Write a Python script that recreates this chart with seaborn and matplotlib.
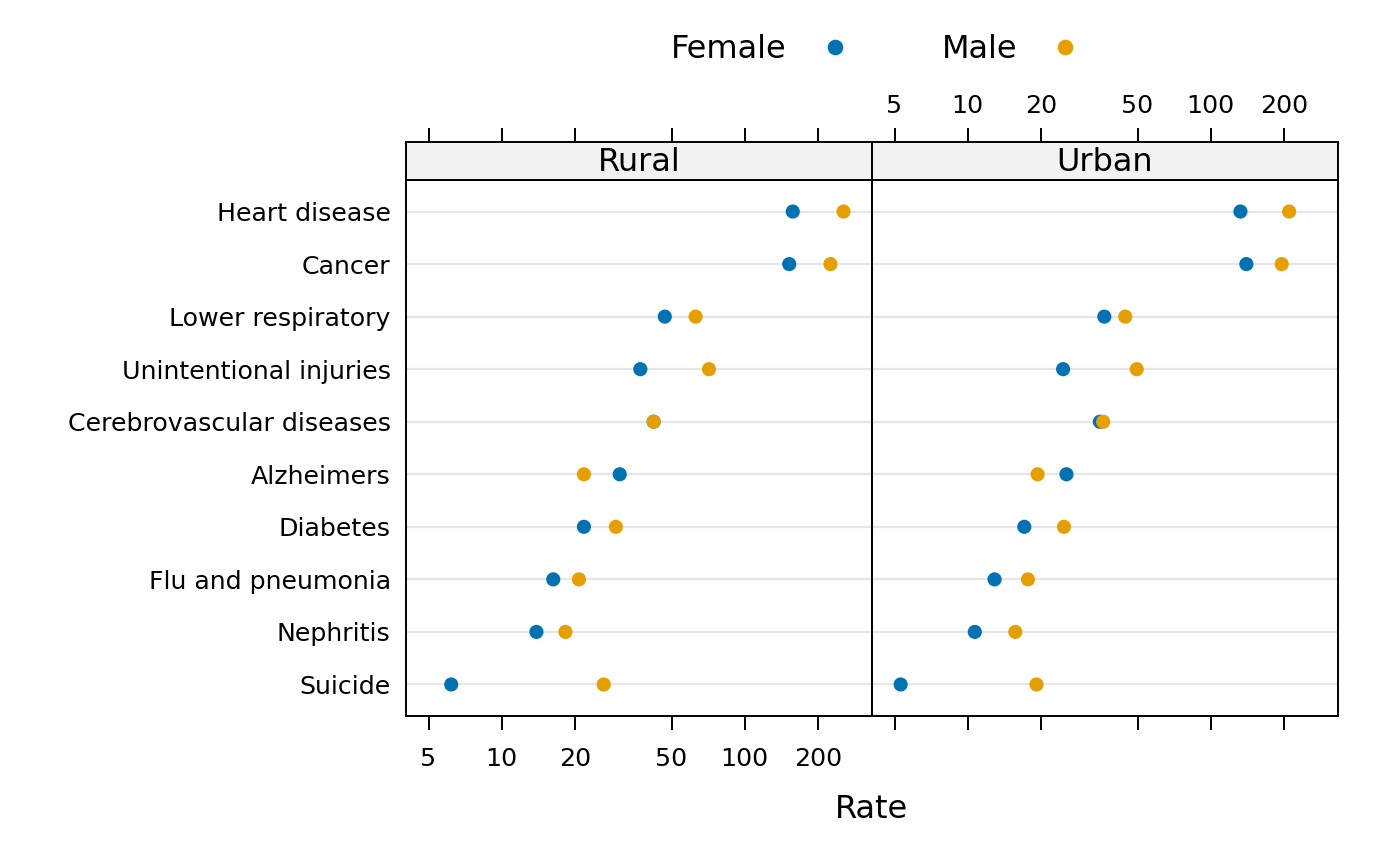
import matplotlib
matplotlib.use("Agg")
import matplotlib.pyplot as plt
from matplotlib.lines import Line2D
import seaborn as sns
import pandas as pd

# US mortality rates by cause, sex and area
causes = ["Heart disease", "Cancer", "Lower respiratory", "Unintentional injuries",
          "Cerebrovascular diseases", "Alzheimers", "Diabetes", "Flu and pneumonia",
          "Nephritis", "Suicide"]
rural_female = [157.7, 152.5, 46.9, 37.2, 42.2, 30.6, 21.8, 16.3, 13.9, 6.2]
rural_male = [255.0, 225.3, 62.8, 71.3, 42.2, 21.8, 29.5, 20.8, 18.3, 26.3]
urban_female = [132.5, 140.2, 36.5, 24.7, 35.0, 25.5, 17.1, 12.9, 10.7, 5.3]
urban_male = [210.2, 195.9, 44.5, 49.6, 36.1, 19.4, 24.9, 17.7, 15.7, 19.2]
sexes = ["Female", "Male"]
statuses = ["Rural", "Urban"]
tick_vals = [5, 10, 20, 50, 100, 200]

rows = []
for status, fem, mal in [("Rural", rural_female, rural_male), ("Urban", urban_female, urban_male)]:
    for c, f, m in zip(causes, fem, mal):
        rows.append((status, "Female", c, f))
        rows.append((status, "Male", c, m))
df = pd.DataFrame(rows, columns=["Status", "Sex", "Cause", "Rate"])

colors = {"Female": "#0072B2", "Male": "#E69F00"}

W, H = 1400, 866
fig = plt.figure(figsize=(14, 8.66), dpi=100)

left0, right0 = 406, 1338
pw = (right0 - left0) / 2
ptop, pbot = 180, 716
strip_h = 38
xlim = (4.04, 334)
tick_fs = 18.2
big_fs = 23

for i, status in enumerate(statuses):
    x0 = left0 + i * pw
    ax = fig.add_axes([x0 / W, 1 - pbot / H, pw / W, (pbot - ptop) / H])
    sub = df[df["Status"] == status]
    sns.stripplot(data=sub, x="Rate", y="Cause", hue="Sex", order=causes,
                  hue_order=sexes, palette=colors, jitter=False, dodge=False,
                  size=10.2, linewidth=0, legend=False, ax=ax, zorder=3)
    ax.set_xscale("log")
    ax.set_xlim(*xlim)
    ax.set_ylim(len(causes) - 0.4, -0.6)
    ax.set_xticks(tick_vals)
    ax.minorticks_off()
    ax.set_xlabel("")
    ax.set_ylabel("")
    ax.yaxis.grid(True, color="#E6E6E6", linewidth=1.6, zorder=0)
    ax.xaxis.grid(False)
    ax.set_axisbelow(True)
    for sp in ax.spines.values():
        sp.set_linewidth(1.4)
        sp.set_color("black")
    ax.tick_params(axis="y", length=0, pad=11, labelsize=tick_fs)
    ax.tick_params(axis="x", length=10, width=1.4, direction="out", pad=12, labelsize=tick_fs)
    if i == 0:
        ax.set_xticklabels([str(v) for v in tick_vals])
    else:
        ax.set_xticklabels([])
        ax.set_yticklabels([])

    # strip with the panel name and the top axis ticks
    sax = fig.add_axes([x0 / W, 1 - ptop / H, pw / W, strip_h / H])
    sax.set_facecolor("#F2F2F2")
    sax.set_xscale("log")
    sax.set_xlim(*xlim)
    sax.set_yticks([])
    sax.set_xticks(tick_vals)
    sax.minorticks_off()
    sax.xaxis.tick_top()
    sax.tick_params(axis="x", length=10, width=1.4, direction="out", pad=7, labelsize=tick_fs)
    if i == 1:
        sax.set_xticklabels([str(v) for v in tick_vals])
    else:
        sax.set_xticklabels([])
    for sp in sax.spines.values():
        sp.set_linewidth(1.4)
    sax.text(0.5, 0.45, status, transform=sax.transAxes, ha="center", va="center", fontsize=big_fs)

fig.text((left0 + pw) / W, 1 - 809 / H, "Rate", ha="center", va="center", fontsize=big_fs)

handles = [Line2D([], [], marker="o", linestyle="", color=colors[s], markersize=10.2) for s in sexes]
fig.legend(handles, sexes, ncol=2, markerfirst=False, frameon=False, loc="center",
           bbox_to_anchor=(876 / W, 1 - 50 / H), fontsize=big_fs, handletextpad=1.0,
           columnspacing=2.85, handlelength=1.0)

fig.savefig("out.png", dpi=100)
